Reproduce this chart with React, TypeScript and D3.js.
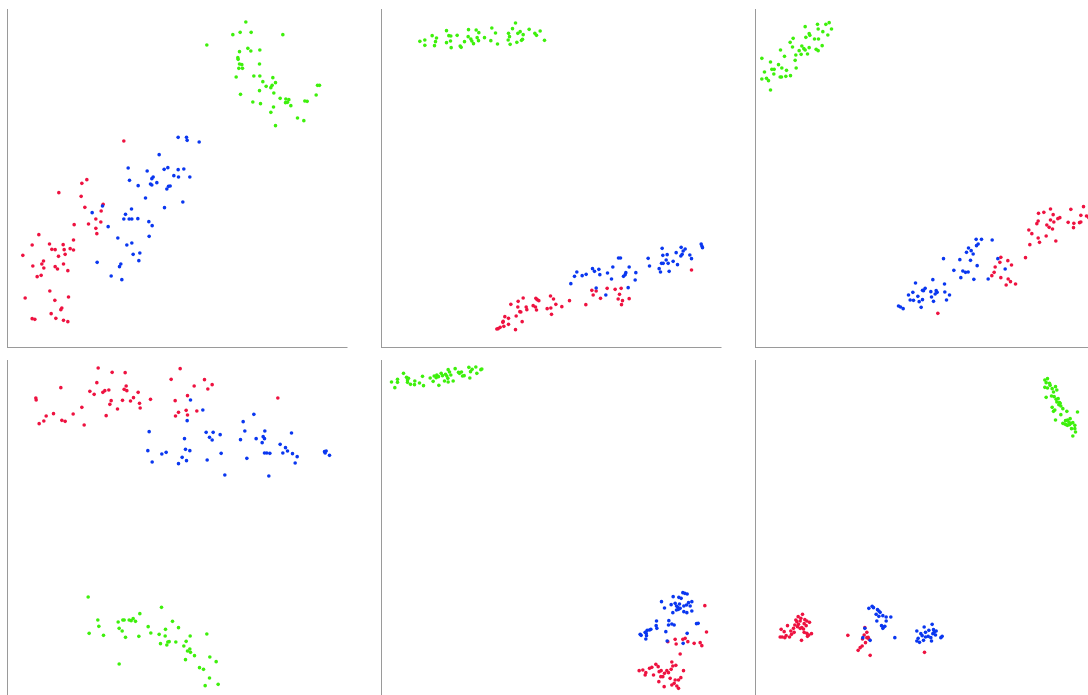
import React from "react";
import * as d3 from "d3";

// Class colours
const classNames = ["classA", "classB", "classC"];
const classColors = ["#ee1240", "#0a37f0", "#3ef00c"];

type Pt = [number, number];

// Panel 1
const p1A: Pt[] = [[34.9,62.1],[23.8,50.5],[22.3,49.4],[15.4,46.6],[22.1,45.5],[28.7,43.1],[23.2,42.2],[28.1,41.1],[26.5,38.7],[28.0,37.8],[24.3,37.2],[20.0,37.0],[26.5,35.9],[26.8,34.3],[9.4,34.0],[19.8,32.4],[12.6,31.2],[7.4,30.9],[16.7,31.0],[13.3,29.6],[14.3,29.5],[17.0,29.5],[18.8,29.8],[19.8,29.4],[17.3,28.1],[15.3,27.5],[4.6,27.8],[10.8,26.1],[10.3,25.2],[7.6,24.6],[10.9,24.0],[14.3,24.4],[16.8,25.2],[15.0,23.7],[18.1,23.2],[10.1,21.8],[8.9,21.4],[12.7,17.1],[5.3,15.0],[14.2,14.3],[18.3,15.3],[16.3,12.0],[16.0,11.5],[13.1,10.3],[7.4,8.8],[8.2,8.6],[14.5,8.9],[16.8,8.3],[18.1,7.9]];
const p1B: Pt[] = [[51.2,63.2],[53.7,63.2],[53.9,62.3],[57.5,61.8],[45.5,58.0],[36.2,54.0],[41.9,53.1],[47.0,53.6],[48.1,54.1],[51.2,53.5],[52.9,53.7],[49.9,51.7],[51.3,51.3],[54.7,51.3],[43.7,51.3],[43.3,50.8],[36.6,50.3],[44.8,49.6],[42.9,49.2],[43.3,48.9],[39.2,48.7],[48.3,48.5],[48.8,48.6],[47.8,47.7],[41.4,45.0],[52.6,43.8],[47.1,42.1],[25.4,40.6],[28.5,42.6],[37.2,41.7],[35.4,40.1],[34.9,38.7],[36.5,38.7],[37.3,38.7],[39.1,38.8],[42.4,37.9],[43.4,36.7],[30.2,36.4],[42.5,33.5],[33.1,33.0],[37.3,31.5],[35.8,30.9],[39.7,28.5],[37.7,28.1],[39.4,26.2],[26.9,25.7],[34.0,25.2],[33.6,24.4],[31.1,21.6],[34.3,20.5]];
const p1C: Pt[] = [[71.5,97.8],[67.6,94.0],[69.8,94.7],[73.1,94.7],[82.6,94.0],[59.8,90.9],[72.1,89.9],[73.0,89.1],[69.6,88.9],[75.7,89.4],[69.1,87.1],[69.2,86.6],[69.6,85.2],[70.3,85.0],[75.6,85.2],[69.4,83.9],[70.5,83.9],[73.9,81.6],[75.7,81.6],[68.6,81.3],[79.6,81.1],[76.6,79.9],[80.4,79.6],[79.4,78.8],[77.6,78.5],[79.0,78.1],[93.6,78.8],[93.0,78.8],[75.6,77.2],[79.9,76.5],[69.9,76.1],[81.8,74.9],[83.5,74.7],[84.4,74.5],[83.4,73.6],[84.0,73.7],[89.2,74.1],[89.9,74.0],[92.6,75.9],[73.6,73.8],[75.9,73.3],[85.0,72.7],[79.8,72.3],[79.0,70.7],[87.0,69.0],[88.9,68.2],[80.4,66.7]];

// Panel 2
const p2A: Pt[] = [[93.0,23.4],[63.1,17.3],[63.5,15.9],[64.4,17.1],[65.7,14.9],[67.7,17.9],[70.1,17.6],[71.9,17.9],[71.4,16.1],[71.0,14.7],[72.3,14.2],[72.0,13.0],[74.3,14.8],[61.3,13.0],[56.4,14.2],[50.7,15.6],[51.6,14.7],[52.3,13.1],[50.8,12.0],[51.0,10.1],[49.7,11.8],[54.1,12.4],[46.3,14.9],[46.7,14.5],[47.2,14.2],[45.5,12.7],[46.2,12.3],[46.5,11.4],[43.4,12.3],[43.6,11.5],[42.5,15.0],[41.0,14.0],[40.9,12.3],[41.8,10.8],[38.8,13.1],[40.4,9.6],[42.2,7.9],[37.0,9.4],[38.1,8.9],[36.5,8.0],[36.4,7.7],[38.1,7.1],[36.7,6.5],[35.6,6.2],[35.0,5.8],[34.6,5.7],[40.2,5.5],[41.5,10.9]];
const p2B: Pt[] = [[95.9,31.2],[96.1,30.6],[96.3,30.1],[84.2,29.9],[89.9,30.2],[91.1,29.7],[90.5,29.1],[84.4,27.8],[85.7,28.0],[88.4,28.6],[90.2,28.1],[92.5,27.9],[89.8,27.6],[93.0,26.8],[80.0,26.9],[85.4,26.4],[87.5,26.0],[88.8,25.0],[84.0,25.4],[84.5,25.4],[86.0,25.4],[71.1,27.0],[71.7,27.0],[80.4,24.6],[83.3,23.8],[83.7,22.8],[86.3,23.0],[69.4,24.3],[74.3,24.3],[63.3,23.8],[65.2,23.6],[63.9,23.0],[58.6,22.8],[57.9,21.5],[60.2,21.7],[61.4,22.1],[65.5,22.0],[67.8,22.5],[69.0,20.7],[73.3,22.6],[73.1,22.0],[72.6,21.5],[76.3,22.6],[76.1,20.4],[56.8,19.3],[74.0,18.1],[67.3,15.9],[64.4,18.0]];
const p2C: Pt[] = [[11.5,92.0],[13.0,92.4],[13.0,90.8],[15.2,93.7],[16.5,93.0],[16.2,91.9],[15.9,90.7],[19.5,95.2],[20.2,93.7],[20.8,93.6],[19.5,91.6],[20.7,92.1],[20.9,90.1],[22.7,93.8],[23.6,90.6],[23.9,90.2],[24.9,91.9],[26.1,95.5],[26.0,93.4],[26.8,92.7],[27.1,92.1],[27.6,91.3],[28.4,95.4],[29.2,94.6],[28.7,93.1],[29.1,92.2],[30.9,93.1],[32.8,92.2],[33.1,96.0],[34.2,94.5],[34.8,91.2],[38.1,94.4],[38.4,93.4],[38.0,92.4],[38.6,91.1],[39.3,95.8],[40.2,97.5],[40.6,91.7],[40.9,94.4],[41.6,94.9],[42.5,94.0],[42.0,92.3],[42.3,92.6],[44.3,95.6],[46.0,94.4],[46.5,93.8],[47.6,95.1],[48.9,92.3]];

// Panel 3
const p3A: Pt[] = [[54.7,10.4],[73.6,27.2],[73.3,25.7],[71.9,24.3],[71.6,22.7],[70.9,21.7],[73.6,21.1],[75.7,26.2],[76.8,24.9],[75.8,20.7],[76.5,19.9],[75.2,18.9],[78.0,19.2],[81.0,27.1],[82.3,31.0],[82.9,34.3],[82.0,35.4],[84.8,33.0],[85.2,31.7],[87.2,33.6],[90.1,32.1],[84.8,38.1],[84.4,37.3],[84.9,40.4],[86.5,40.7],[88.5,41.7],[89.3,40.0],[88.5,38.4],[89.5,37.8],[87.4,36.9],[88.1,36.2],[89.1,35.7],[90.7,38.8],[91.3,39.1],[93.8,37.7],[94.6,41.6],[95.5,37.4],[95.4,36.1],[97.2,37.6],[97.6,37.8],[97.6,39.8],[98.4,42.4],[99.3,39.6],[100.0,39.1]];
const p3B: Pt[] = [[66.2,32.6],[67.8,32.6],[71.0,32.4],[66.8,31.2],[66.3,30.7],[63.9,30.0],[64.7,29.2],[63.3,28.7],[65.3,28.2],[56.4,26.8],[61.3,26.5],[64.5,26.3],[66.5,24.7],[59.5,23.3],[62.2,23.1],[63.0,22.7],[63.8,22.8],[61.6,21.1],[65.5,20.6],[69.8,20.7],[72.7,26.8],[74.9,23.7],[53.2,20.5],[48.0,19.5],[56.7,19.2],[50.9,17.9],[50.1,17.3],[50.4,17.2],[47.2,16.7],[45.9,15.9],[48.7,15.5],[52.6,16.9],[54.2,17.2],[54.5,16.7],[53.9,16.2],[56.8,16.8],[58.2,15.9],[52.8,15.3],[46.4,14.4],[47.4,14.3],[49.1,13.9],[50.1,14.5],[53.4,14.0],[57.3,14.4],[42.9,12.6],[43.5,12.3],[44.3,11.8],[49.7,12.2]];
const p3C: Pt[] = [[1.9,86.9],[4.5,85.8],[2.7,82.8],[4.9,83.6],[5.6,83.6],[6.9,85.0],[7.9,84.0],[9.3,83.3],[5.5,82.2],[1.9,80.7],[3.3,80.9],[3.9,80.2],[4.5,77.4],[7.4,81.3],[7.8,81.3],[9.1,81.5],[10.5,81.7],[8.7,87.5],[7.5,89.4],[10.4,91.7],[11.3,92.9],[11.1,90.3],[12.2,84.0],[11.9,86.3],[12.1,87.9],[13.1,89.2],[13.9,90.6],[14.5,89.8],[13.7,88.1],[14.9,89.4],[15.6,88.2],[16.1,90.1],[14.9,96.4],[16.1,94.3],[16.3,93.8],[15.1,93.2],[18.6,97.1],[21.1,97.1],[22.1,97.6],[18.8,95.7],[20.2,94.9],[22.8,95.7],[21.7,93.9],[17.7,92.7],[18.9,92.7],[20.0,90.7],[18.2,89.6],[18.8,89.2]];

// Panel 4
const p4A: Pt[] = [[27.2,99.3],[51.8,99.1],[31.4,98.0],[35.3,97.9],[49.1,95.9],[59.1,95.8],[26.8,94.9],[56.0,93.9],[61.4,94.3],[16.0,93.4],[35.6,93.9],[35.0,92.9],[35.8,92.5],[30.4,92.7],[29.2,92.5],[60.1,93.0],[24.7,92.3],[26.0,91.4],[28.6,92.0],[39.2,92.0],[54.0,91.0],[8.5,90.3],[8.6,89.7],[37.8,90.4],[34.5,89.6],[36.9,89.4],[31.1,89.5],[42.9,89.9],[50.3,89.5],[30.7,88.4],[39.6,88.7],[39.8,87.3],[22.3,87.5],[33.0,87.0],[53.6,86.6],[51.3,86.0],[56.8,86.4],[13.8,85.6],[19.7,85.5],[11.6,84.9],[10.9,83.4],[16.3,83.6],[17.3,83.3],[9.5,82.6],[23.0,82.2],[29.6,85.0],[50.4,84.9],[54.0,85.2],[81.1,90.3]];
const p4B: Pt[] = [[54.9,89.7],[58.6,86.7],[53.9,83.5],[70.7,83.2],[73.9,85.4],[42.5,80.2],[59.6,80.0],[61.7,80.0],[63.8,79.3],[60.6,78.5],[61.4,77.7],[71.2,80.4],[77.2,80.4],[85.2,79.8],[53.1,78.1],[69.9,77.8],[74.6,78.1],[76.7,78.7],[77.1,78.1],[76.4,76.9],[81.8,76.4],[83.4,75.4],[84.0,74.4],[82.6,73.8],[85.5,73.6],[86.9,72.7],[86.3,70.8],[77.1,73.8],[77.8,73.8],[78.7,73.7],[42.1,74.5],[46.3,73.5],[47.6,74.0],[53.4,74.9],[54.7,74.5],[52.4,72.5],[53.7,71.5],[51.3,70.6],[43.4,71.1],[59.9,71.7],[64.1,73.7],[71.8,72.2],[65.2,67.2],[78.4,66.9],[95.1,74.2],[95.6,74.4],[95.3,73.8],[96.6,73.1]];
const p4C: Pt[] = [[24.2,30.6],[46.2,27.5],[39.7,25.6],[27.1,23.7],[33.2,23.1],[34.6,23.7],[35.0,23.7],[36.5,23.7],[37.1,23.5],[37.7,24.1],[38.4,23.3],[27.4,21.8],[33.5,21.2],[34.4,20.4],[35.4,18.5],[24.5,19.7],[28.8,19.1],[39.4,18.8],[42.2,21.7],[43.0,19.8],[45.5,19.4],[47.4,20.9],[47.3,18.9],[49.5,23.3],[51.3,21.4],[54.8,18.9],[59.8,19.5],[45.9,16.6],[47.8,16.2],[48.1,17.1],[48.5,17.2],[50.5,17.1],[52.9,15.9],[53.6,17.3],[54.0,14.4],[54.7,15.0],[54.9,14.0],[56.1,13.0],[53.4,11.8],[60.7,12.6],[62.6,11.2],[57.6,9.4],[58.8,8.9],[60.6,6.3],[59.3,4.0],[63.2,4.4],[33.5,10.5]];

// Panel 5
const p5A: Pt[] = [[97.0,28.0],[97.5,20.1],[85.9,17.2],[88.1,17.9],[88.4,16.5],[90.4,17.9],[91.1,18.2],[91.9,17.2],[93.8,16.7],[95.6,16.9],[96.1,16.0],[89.6,13.5],[78.4,8.7],[79.1,7.2],[80.4,9.2],[81.1,9.5],[82.3,10.4],[83.0,9.7],[81.6,7.2],[83.3,8.2],[83.9,8.5],[84.4,6.7],[85.6,8.5],[86.1,7.9],[87.1,11.1],[87.4,9.9],[88.3,10.1],[86.9,8.9],[84.9,7.7],[83.2,5.2],[83.8,6.7],[86.6,6.2],[88.1,5.7],[89.1,5.7],[89.8,6.4],[87.8,4.7],[87.1,4.2],[88.6,3.9],[89.1,3.2],[84.8,3.7],[90.6,8.5],[77.3,8.5],[79.3,7.9]];
const p5B: Pt[] = [[90.4,31.9],[91.0,31.7],[91.7,31.5],[87.5,30.7],[89.2,30.5],[89.9,30.2],[93.1,29.2],[92.1,28.9],[84.0,29.2],[86.9,28.3],[88.1,28.7],[88.5,27.9],[89.4,28.5],[90.7,27.9],[91.5,28.2],[92.6,27.9],[84.9,27.3],[88.9,27.5],[88.5,26.7],[89.1,26.9],[89.6,27.2],[87.4,25.9],[90.7,26.2],[91.6,25.9],[93.1,26.4],[86.2,23.5],[87.1,22.5],[87.8,22.2],[86.1,22.2],[82.5,23.4],[82.4,22.0],[82.6,21.2],[80.4,20.7],[80.8,20.9],[79.7,20.6],[79.4,19.7],[79.1,20.0],[77.6,19.4],[77.9,19.1],[79.5,19.0],[79.3,18.0],[85.3,20.2],[95.0,22.7],[94.5,22.6],[85.7,17.4],[90.5,16.7],[91.7,19.7]];
const p5C: Pt[] = [[3.0,95.1],[4.0,93.4],[4.8,95.9],[4.8,95.0],[6.6,97.7],[7.5,96.5],[7.8,95.7],[8.1,96.2],[7.8,95.0],[8.7,94.4],[10.0,95.4],[9.9,94.3],[11.4,94.8],[12.3,96.8],[12.6,94.0],[14.6,96.3],[15.5,95.3],[16.6,97.2],[16.4,96.4],[17.1,96.7],[17.2,94.1],[17.9,97.7],[18.3,97.0],[19.2,97.4],[18.9,95.4],[19.6,96.9],[20.0,98.8],[20.0,95.1],[20.4,98.1],[19.9,96.2],[21.5,95.4],[22.1,99.1],[23.4,97.7],[24.0,98.1],[24.3,96.9],[26.2,99.5],[26.5,96.3],[26.7,98.2],[27.2,98.9],[28.3,99.6],[28.6,97.7],[29.8,98.8],[30.1,99.0],[23.1,98.0],[24.8,97.0],[15.8,96.9],[20.8,97.2]];

// Panel 6
const p6A: Pt[] = [[14.1,25.4],[12.8,24.7],[12.1,23.7],[13.4,23.4],[14.8,23.8],[15.4,23.4],[16.2,23.0],[14.6,22.6],[15.2,22.0],[12.9,22.4],[11.8,22.2],[12.6,21.7],[13.4,21.2],[13.9,21.4],[11.4,21.2],[9.6,22.0],[7.7,20.9],[8.6,20.2],[10.6,20.4],[11.6,20.0],[10.8,19.4],[10.2,18.6],[9.2,19.0],[8.0,18.6],[7.4,18.6],[8.8,18.4],[13.8,17.6],[14.6,20.0],[15.4,19.7],[16.0,19.2],[16.8,19.6],[15.6,18.8],[14.4,21.0],[12.4,23.2],[13.6,24.2],[27.7,19.1],[32.8,21.4],[33.4,20.0],[32.6,19.2],[33.4,18.4],[34.0,18.0],[32.1,18.0],[33.0,16.9],[32.0,15.9],[31.4,15.4],[30.8,14.6],[34.4,13.1],[33.8,18.5],[50.7,14.0]];
const p6B: Pt[] = [[34.0,27.2],[35.0,27.8],[35.4,27.4],[36.6,26.8],[37.0,26.4],[37.4,26.0],[36.2,25.4],[38.2,25.0],[37.0,24.8],[39.2,24.6],[40.6,24.6],[36.4,23.4],[39.2,23.4],[37.8,22.0],[38.4,21.6],[38.8,21.8],[38.2,21.2],[32.8,21.2],[32.2,18.4],[34.4,17.6],[41.8,18.4],[53.0,22.4],[50.6,21.6],[48.4,20.4],[49.6,19.6],[51.0,20.0],[52.0,20.6],[53.4,20.8],[54.2,20.4],[53.2,19.6],[51.8,18.8],[50.0,19.0],[48.8,18.2],[48.4,17.4],[49.2,17.0],[50.4,17.6],[51.0,18.6],[52.6,18.4],[54.0,19.2],[52.8,17.4],[56.0,18.8],[55.6,18.4],[53.6,20.0]];
const p6C: Pt[] = [[86.8,95.7],[87.6,96.1],[87.2,94.9],[88.2,94.7],[86.8,93.5],[87.6,93.3],[88.4,94.1],[89.0,93.1],[90.0,93.7],[90.4,92.7],[89.4,92.1],[88.8,90.9],[87.2,90.5],[89.6,90.7],[90.2,89.9],[90.8,90.1],[90.4,89.1],[91.2,88.9],[91.0,88.3],[91.6,87.9],[89.0,87.5],[89.8,86.7],[89.4,86.3],[92.2,87.1],[93.4,86.3],[91.6,85.3],[96.6,86.1],[90.0,83.7],[93.0,83.5],[93.6,83.7],[94.4,84.1],[92.2,82.7],[92.8,82.5],[93.6,82.1],[94.2,82.3],[94.6,82.7],[95.2,82.9],[95.8,82.1],[94.8,81.1],[95.8,81.1],[96.0,80.1],[95.2,78.9],[93.2,82.3],[94.0,83.1],[91.4,88.7]];

const panels: Pt[][][] = [
  [p1A, p1B, p1C],
  [p2A, p2B, p2C],
  [p3A, p3B, p3C],
  [p4A, p4B, p4C],
  [p5A, p5B, p5C],
  [p6A, p6B, p6C],
];

const WIDTH = 1088;
const HEIGHT = 695;
const COLS = 3;
const CELL_W = 374;
const CELL_H = 351;
const PLOT = 340;
const DOMAIN: [number, number] = [0, 102];

export default function App() {
  return (
    <svg
      width={WIDTH}
      height={HEIGHT}
      style={{ position: "absolute", left: 0, top: 0, display: "block", background: "#fff" }}
    >
      {panels.map((groups, i) => {
        const col = i % COLS;
        const row = Math.floor(i / COLS);
        const left = 7.5 + col * CELL_W;
        const top = 8 + row * CELL_H;
        const x = d3.scaleLinear().domain(DOMAIN).range([left, left + PLOT]);
        const y = d3.scaleLinear().domain(DOMAIN).range([top + PLOT, top]);
        return (
          <g key={i}>
            <line x1={left} x2={left} y1={top + 1} y2={top + PLOT} stroke="#9a9a9a" strokeWidth={1} />
            <line x1={left} x2={left + PLOT} y1={top + PLOT - 0.5} y2={top + PLOT - 0.5} stroke="#9a9a9a" strokeWidth={1} />
            {groups.map((pts, k) => (
              <g key={classNames[k]} fill={classColors[k]}>
                {pts.map((d, j) => (
                  <circle key={j} cx={x(d[0])} cy={y(d[1])} r={1.8} />
                ))}
              </g>
            ))}
          </g>
        );
      })}
    </svg>
  );
}
